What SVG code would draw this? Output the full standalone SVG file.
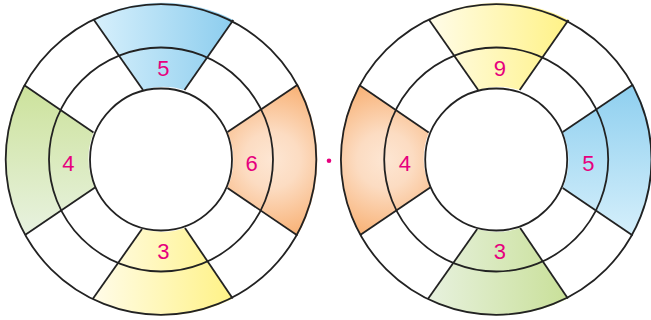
<svg xmlns="http://www.w3.org/2000/svg" width="651" height="320" viewBox="0 0 651 320">
  <defs>
    <linearGradient id="blueH" x1="0" y1="0" x2="1" y2="0">
      <stop offset="0" stop-color="#d7f0fc"/>
      <stop offset="1" stop-color="#8ccdee"/>
    </linearGradient>
    <linearGradient id="blueV" x1="0" y1="0" x2="0" y2="1">
      <stop offset="0" stop-color="#8ecfef"/>
      <stop offset="1" stop-color="#d5effb"/>
    </linearGradient>
    <linearGradient id="greenV" x1="0" y1="0" x2="0" y2="1">
      <stop offset="0" stop-color="#cce29b"/>
      <stop offset="1" stop-color="#e8f2e0"/>
    </linearGradient>
    <linearGradient id="greenH" x1="0" y1="0" x2="1" y2="0">
      <stop offset="0" stop-color="#e7f1de"/>
      <stop offset="1" stop-color="#c9e099"/>
    </linearGradient>
    <linearGradient id="yellowH" x1="0" y1="0" x2="1" y2="0">
      <stop offset="0" stop-color="#fffce9"/>
      <stop offset="1" stop-color="#fff286"/>
    </linearGradient>
    <radialGradient id="orangeR1" gradientUnits="userSpaceOnUse" cx="272" cy="160" r="80">
      <stop offset="0" stop-color="#fde6d3"/>
      <stop offset="0.35" stop-color="#fcdcc2"/>
      <stop offset="1" stop-color="#f8b073"/>
    </radialGradient>
    <radialGradient id="orangeR2" gradientUnits="userSpaceOnUse" cx="50" cy="160" r="80">
      <stop offset="0" stop-color="#fde6d3"/>
      <stop offset="0.35" stop-color="#fcdcc2"/>
      <stop offset="1" stop-color="#f8b073"/>
    </radialGradient>
    <g id="skeleton" fill="none" stroke="#222222" stroke-width="1.8">
      <circle cx="161" cy="159.5" r="155.3"/>
      <circle cx="161" cy="159.5" r="112"/>
      <circle cx="161" cy="159.5" r="71"/>
      <line x1="93.3" y1="19" x2="143" y2="90"/>
      <line x1="233.3" y1="20" x2="184.5" y2="90"/>
      <line x1="92.7" y1="299" x2="142" y2="229"/>
      <line x1="232.7" y1="298.5" x2="185" y2="228"/>
      <line x1="24" y1="85" x2="93.5" y2="132.5"/>
      <line x1="25" y1="235" x2="95" y2="187.5"/>
      <line x1="298" y1="84.5" x2="227.5" y2="132"/>
      <line x1="297.5" y1="235.5" x2="227.5" y2="188"/>
    </g>
  </defs>
  <style>
    .num { font-family: "Liberation Sans", Arial, sans-serif; font-size: 22px; fill: #e6007e; text-anchor: middle; }
  </style>
  <rect width="651" height="320" fill="#ffffff"/>

  <g id="wheel-left">
    <path id="L-top" fill="url(#blueH)" d="M 93.3 19 A 155.3 155.3 0 0 1 233.3 20 L 184.5 90 A 71 71 0 0 0 143 90 Z"/>
    <path id="L-bottom" fill="url(#yellowH)" d="M 232.7 298.5 A 155.3 155.3 0 0 1 92.7 299 L 142 229 A 71 71 0 0 0 185 228 Z"/>
    <path id="L-left" fill="url(#greenV)" d="M 25 235 A 155.3 155.3 0 0 1 24 85 L 93.5 132.5 A 71 71 0 0 0 95 187.5 Z"/>
    <path id="L-right" fill="url(#orangeR1)" d="M 298 84.5 A 155.3 155.3 0 0 1 297.5 235.5 L 227.5 188 A 71 71 0 0 0 227.5 132 Z"/>
    <use href="#skeleton"/>
    <text class="num" x="163.3" y="76.3">5</text>
    <text class="num" x="68.3" y="170.5">4</text>
    <text class="num" x="251.7" y="170.5">6</text>
    <text class="num" x="163.3" y="258.5">3</text>
  </g>

  <circle id="dot" cx="329" cy="160.7" r="2.3" fill="#e6007e"/>

  <g id="wheel-right" transform="translate(335.2,0)">
    <path id="R-top" fill="url(#yellowH)" d="M 93.3 19 A 155.3 155.3 0 0 1 233.3 20 L 184.5 90 A 71 71 0 0 0 143 90 Z"/>
    <path id="R-bottom" fill="url(#greenH)" d="M 232.7 298.5 A 155.3 155.3 0 0 1 92.7 299 L 142 229 A 71 71 0 0 0 185 228 Z"/>
    <path id="R-left" fill="url(#orangeR2)" d="M 25 235 A 155.3 155.3 0 0 1 24 85 L 93.5 132.5 A 71 71 0 0 0 95 187.5 Z"/>
    <path id="R-right" fill="url(#blueV)" d="M 298 84.5 A 155.3 155.3 0 0 1 297.5 235.5 L 227.5 188 A 71 71 0 0 0 227.5 132 Z"/>
    <use href="#skeleton"/>
    <text class="num" x="164.8" y="76.3">9</text>
    <text class="num" x="69.8" y="171">4</text>
    <text class="num" x="253.1" y="170.5">5</text>
    <text class="num" x="164.8" y="258.5">3</text>
  </g>
</svg>
